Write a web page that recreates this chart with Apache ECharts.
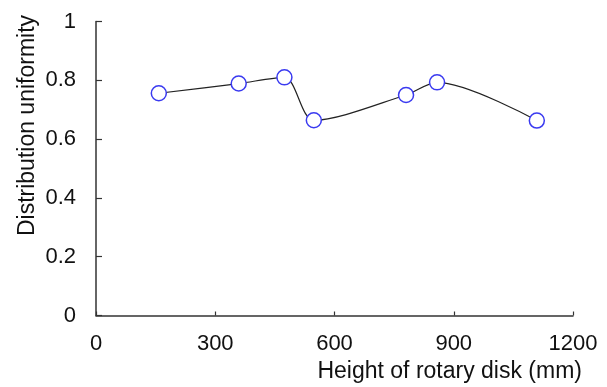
<!DOCTYPE html>
<html>
<head>
<meta charset="utf-8">
<script src="https://cdn.jsdelivr.net/npm/echarts@6/dist/echarts.min.js"></script>
<style>
  html, body { margin: 0; padding: 0; background: #fff; }
  #chart { width: 607px; height: 387px; }
</style>
</head>
<body>
<div id="chart"></div>
<script>
// 转盘高度 (mm) 与 分布均匀度
const heights = [158, 359, 474, 548, 780, 858, 1109];
const uniformity = [0.756, 0.789, 0.810, 0.664, 0.750, 0.793, 0.663];
const xTicks = [0, 300, 600, 900, 1200];
const yTicks = [0, 0.2, 0.4, 0.6, 0.8, 1];

const chart = echarts.init(document.getElementById("chart"));

const points = heights.map((h, i) => [h, uniformity[i]]);

const option = {
  animation: false,
  grid: {
    left: 96,
    right: 34,
    top: 21.5,
    bottom: 71.5,
  },
  xAxis: {
    type: "value",
    min: xTicks[0],
    max: xTicks[xTicks.length - 1],
    interval: 300,
    name: "Height of rotary disk (mm)",
    nameLocation: "end",
    nameGap: 9,
    nameMoveOverlap: false,
    nameTextStyle: {
      fontFamily: "Liberation Sans",
      fontSize: 23,
      color: "#111",
      align: "right",
      verticalAlign: "top",
      padding: [45, 0, 0, 0],
    },
    axisLine: { lineStyle: { color: "#333", width: 1.5 } },
    axisTick: { inside: true, length: 4, lineStyle: { color: "#333", width: 1.2 } },
    axisLabel: {
      margin: 17,
      fontFamily: "Liberation Sans",
      fontSize: 22,
      color: "#111",
      formatter: (v) => String(v),
    },
    splitLine: { show: false },
  },
  yAxis: {
    type: "value",
    min: yTicks[0],
    max: yTicks[yTicks.length - 1],
    interval: 0.2,
    name: "Distribution uniformity",
    nameLocation: "middle",
    nameGap: 57,
    nameMoveOverlap: false,
    nameTextStyle: {
      fontFamily: "Liberation Sans",
      fontSize: 23,
      color: "#111",
      padding: [0, 0, 0, 86],
    },
    axisLine: { show: true, lineStyle: { color: "#333", width: 1.5 } },
    axisTick: { show: true, inside: true, length: 6, lineStyle: { color: "#333", width: 1.2 } },
    axisLabel: {
      margin: 20,
      fontFamily: "Liberation Sans",
      fontSize: 22,
      color: "#111",
      formatter: (v) => String(Math.round(v * 10) / 10),
    },
    splitLine: { show: false },
  },
  series: [
    {
      type: "line",
      data: points,
      smooth: 0.3,
      symbol: "circle",
      symbolSize: 15,
      lineStyle: { color: "#222", width: 1.2 },
      itemStyle: { color: "#fff", borderColor: "#3a3af0", borderWidth: 1.5 },
    },
  ],
};

chart.setOption(option);
</script>
</body>
</html>
